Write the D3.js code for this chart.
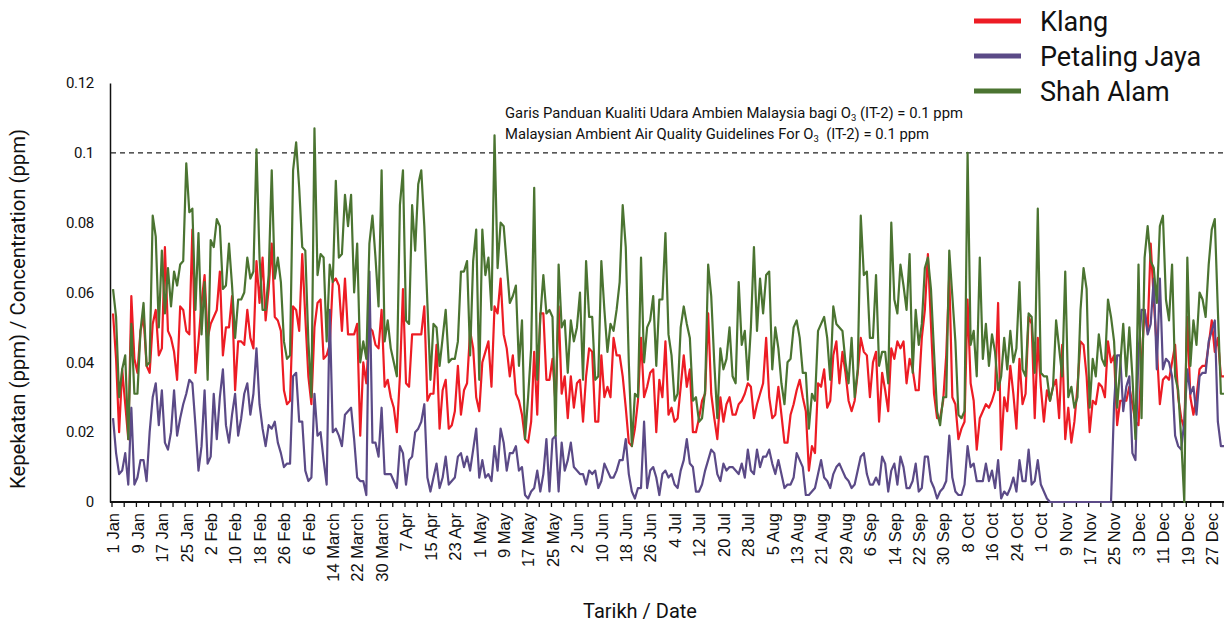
<!DOCTYPE html>
<html>
<head>
<meta charset="utf-8">
<script src="https://cdn.jsdelivr.net/npm/d3@7"></script>
<style>
  body { margin: 0; background: #fff; }
  svg text { fill: #111; }
</style>
</head>
<body>
<div id="chart"></div>
<script>
// daily ozone readings (ppm), 1 Jan - 31 Dec
let tickLabels = ["1 Jan","9 Jan","17 Jan","25 Jan","2 Feb","10 Feb","18 Feb","26 Feb","6 Feb",
    "14 March","22 March","30 March","7 Apr","15 Apr","23 Apr","1 May","9 May","17 May","25 May",
    "2 Jun","10 Jun","18 Jun","26 Jun","4 Jul","12 Jul","20 Jul","28 Jul","5 Aug","13 Aug","21 Aug",
    "29 Aug","6 Sep","14 Sep","22 Sep","30 Sep","8 Oct","16 Oct","24 Oct","1 Oct","9 Nov","17 Nov",
    "25 Nov","3 Dec","11 Dec","19 Dec","27 Dec"];
let yTicks = [0, 0.02, 0.04, 0.06, 0.08, 0.1, 0.12];
let guideline = 0.1;

let klang = [
 0.054,0.041,0.020,0.038,0.028,0.018,0.059,0.041,0.037,0.049,
 0.053,0.039,0.037,0.051,0.055,0.042,0.044,0.073,0.049,0.047,
 0.043,0.035,0.056,0.055,0.049,0.048,0.078,0.037,0.046,0.057,
 0.065,0.047,0.051,0.053,0.055,0.066,0.042,0.050,0.050,0.059,
 0.032,0.046,
 0.046,0.045,0.055,0.047,0.044,0.069,0.057,0.070,0.052,0.061,
 0.074,0.053,0.052,0.049,0.032,0.028,0.029,0.056,0.055,0.049,
 0.071,0.053,0.036,0.028,0.050,0.057,0.058,0.041,0.042,0.045,
 0.063,0.064,0.062,0.049,0.064,0.048,0.048,0.048,0.051,0.019,
 0.040,0.034,0.050,0.049,0.045,0.044,
 0.055,0.033,0.035,0.030,0.027,0.020,0.036,0.061,0.034,0.033,
 0.048,0.048,0.048,0.048,0.056,0.029,0.031,0.031,0.045,0.021,
 0.032,0.035,0.021,0.022,0.026,0.039,0.025,0.032,0.034,0.049,
 0.044,0.030,0.026,0.040,0.043,0.046,0.033,0.056,0.054,0.064,
 0.048,0.044,0.036,0.042,0.031,0.029,0.025,0.018,
 0.017,0.023,0.043,0.025,0.054,0.054,0.035,0.035,0.041,0.028,
 0.056,0.031,0.036,0.024,0.036,0.027,0.034,0.035,0.023,0.036,
 0.044,0.043,0.023,0.023,0.042,0.030,0.033,0.030,0.047,0.042,
 0.042,0.036,0.027,0.017,0.016,0.021,0.029,0.047,0.030,0.033,
 0.037,0.038,0.020,0.035,0.030,0.046,
 0.025,0.027,0.023,0.024,0.033,0.042,0.033,0.038,0.020,0.020,
 0.024,0.029,0.031,0.054,0.031,0.024,0.018,0.030,0.023,0.028,
 0.030,0.025,0.025,0.028,0.029,0.031,0.034,0.033,0.024,0.028,
 0.031,0.034,0.047,0.030,0.024,0.025,0.033,0.025,0.017,0.017,
 0.025,0.028,0.032,0.035,0.030,0.026,
 0.009,0.016,0.014,0.034,0.033,0.038,0.027,0.029,0.042,0.046,
 0.034,0.043,0.037,0.029,0.026,0.029,0.037,0.047,0.043,0.042,
 0.030,0.040,0.043,0.023,0.037,0.032,0.026,0.044,0.041,0.046,
 0.044,0.046,0.034,0.041,0.038,0.032,0.032,0.047,0.055,0.071,
 0.051,0.031,0.024,0.024,0.029,0.042,
 0.065,0.030,0.028,0.018,0.021,0.023,0.058,0.034,0.029,0.015,
 0.024,0.026,0.028,0.027,0.029,0.032,0.057,0.015,0.030,0.026,
 0.039,0.031,0.021,0.041,0.028,0.031,0.053,0.051,0.024,0.047,
 0.033,0.023,0.032,0.029,0.033,0.035,0.024,0.045,0.018,0.027,
 0.017,0.023,0.033,0.046,0.045,
 0.036,0.020,0.029,0.028,0.034,0.033,0.030,0.046,0.040,0.042,
 0.022,0.029,0.029,0.029,0.033,0.028,0.023,0.022,0.040,0.055,
 0.049,0.074,0.058,0.044,0.028,0.035,0.036,0.035,0.040,0.045,
 0.030,0.024,0.021,0.053,0.030,0.025,0.030,0.038,0.039,0.039,
 0.045,0.052,0.043,0.047,0.036,0.036
];

let petalingJaya = [
 0.024,0.014,0.008,0.009,0.014,0.005,0.027,0.005,0.007,0.012,
 0.012,0.006,0.020,0.030,0.034,0.022,0.032,0.017,0.015,0.020,
 0.032,0.019,0.024,0.028,0.031,0.035,0.034,0.022,0.009,0.016,
 0.032,0.011,0.013,0.031,0.018,0.030,0.038,0.022,0.017,0.025,
 0.031,0.019,
 0.024,0.031,0.034,0.025,0.031,0.044,0.028,0.021,0.016,0.022,
 0.021,0.023,0.017,0.014,0.010,0.011,0.011,0.036,0.037,0.023,
 0.023,0.009,0.006,0.007,0.031,0.019,0.020,0.012,0.005,0.055,
 0.020,0.021,0.019,0.016,0.025,0.026,0.027,0.018,0.007,0.006,
 0.006,0.002,0.066,0.017,0.017,0.013,
 0.027,0.008,0.008,0.008,0.006,0.004,0.016,0.014,0.005,0.012,
 0.013,0.020,0.021,0.023,0.028,0.007,0.003,0.007,0.011,0.004,
 0.007,0.013,0.005,0.006,0.007,0.013,0.014,0.010,0.013,0.009,
 0.015,0.021,0.007,0.012,0.007,0.008,0.006,0.016,0.009,0.021,
 0.017,0.009,0.014,0.014,0.016,0.009,0.010,0.002,
 0.001,0.003,0.004,0.009,0.003,0.008,0.018,0.003,0.018,0.019,
 0.003,0.017,0.009,0.012,0.017,0.010,0.009,0.008,0.008,0.005,
 0.009,0.008,0.009,0.004,0.006,0.011,0.009,0.007,0.007,0.009,
 0.012,0.012,0.018,0.008,0.003,0.001,0.004,0.004,0.023,0.004,
 0.009,0.010,0.007,0.002,0.008,0.009,
 0.007,0.008,0.005,0.004,0.009,0.012,0.018,0.011,0.010,0.003,
 0.003,0.005,0.009,0.012,0.015,0.014,0.008,0.006,0.011,0.009,
 0.010,0.010,0.009,0.008,0.011,0.007,0.015,0.009,0.008,0.015,
 0.010,0.013,0.013,0.015,0.011,0.008,0.012,0.008,0.004,0.005,
 0.005,0.007,0.014,0.012,0.010,0.002,
 0.002,0.003,0.004,0.008,0.012,0.007,0.006,0.004,0.008,0.010,
 0.011,0.009,0.007,0.006,0.004,0.005,0.009,0.013,0.014,0.008,
 0.005,0.005,0.007,0.005,0.013,0.011,0.003,0.009,0.011,0.005,
 0.013,0.010,0.004,0.004,0.006,0.011,0.003,0.004,0.013,0.013,
 0.006,0.004,0.001,0.003,0.004,0.006,
 0.019,0.007,0.003,0.002,0.002,0.005,0.016,0.010,0.011,0.006,
 0.006,0.006,0.011,0.006,0.009,0.004,0.012,0.001,0.003,0.002,
 0.004,0.007,0.003,0.012,0.006,0.006,0.015,0.005,0.006,0.012,
 0.005,0.003,0.001,0,0,0,0,0,0,0,
 0,0,0,0,0,
 0,0,0,0,0,0,0,0,0,0.028,
 0.042,0.042,0.026,0.033,0.036,0.014,0.012,0.043,0.055,0.055,
 0.048,0.051,0.064,0.038,0.064,0.038,0.041,0.040,0.036,0.019,
 0.016,0.015,0.023,0.038,0.031,0.033,0.025,0.036,0.037,0.037,
 0.046,0.049,0.052,0.023,0.016,0.016
];

let shahAlam = [
 0.061,0.053,0.030,0.038,0.042,0.018,0.051,0.031,0.031,0.049,
 0.057,0.039,0.040,0.082,0.076,0.050,0.072,0.054,0.067,0.056,
 0.066,0.062,0.068,0.069,0.097,0.083,0.084,0.055,0.077,0.048,
 0.063,0.035,0.075,0.073,0.081,0.079,0.061,0.062,0.074,0.062,
 0.047,0.058,
 0.058,0.060,0.070,0.064,0.066,0.101,0.070,0.055,0.055,0.065,
 0.095,0.064,0.070,0.063,0.046,0.041,0.042,0.095,0.103,0.090,
 0.073,0.072,0.046,0.030,0.107,0.065,0.071,0.070,0.046,0.068,
 0.063,0.092,0.070,0.071,0.088,0.079,0.088,0.060,0.074,0.040,
 0.046,0.041,0.074,0.082,0.070,0.056,
 0.095,0.046,0.052,0.044,0.040,0.036,0.085,0.095,0.052,0.051,
 0.085,0.072,0.091,0.095,0.079,0.057,0.035,0.051,0.050,0.039,
 0.047,0.055,0.040,0.041,0.041,0.046,0.066,0.066,0.069,0.042,
 0.069,0.078,0.035,0.078,0.065,0.070,0.055,0.105,0.067,0.080,
 0.079,0.068,0.057,0.059,0.062,0.039,0.052,0.018,
 0.030,0.044,0.090,0.035,0.053,0.065,0.054,0.055,0.053,0.019,
 0.068,0.050,0.052,0.037,0.052,0.046,0.050,0.060,0.035,0.069,
 0.053,0.053,0.035,0.036,0.069,0.055,0.043,0.051,0.049,0.055,
 0.063,0.085,0.073,0.040,0.016,0.031,0.030,0.070,0.040,0.050,
 0.052,0.059,0.039,0.058,0.058,0.077,
 0.048,0.042,0.029,0.031,0.050,0.056,0.051,0.047,0.029,0.030,
 0.023,0.024,0.032,0.068,0.059,0.040,0.024,0.044,0.038,0.041,
 0.050,0.036,0.034,0.063,0.045,0.049,0.035,0.050,0.073,0.049,
 0.064,0.054,0.065,0.066,0.038,0.050,0.044,0.034,0.028,0.040,
 0.041,0.050,0.052,0.047,0.037,0.037,
 0.021,0.031,0.029,0.049,0.051,0.053,0.047,0.035,0.056,0.051,
 0.050,0.049,0.040,0.034,0.047,0.030,0.038,0.082,0.065,0.066,
 0.047,0.047,0.065,0.039,0.043,0.043,0.034,0.080,0.058,0.054,
 0.068,0.062,0.055,0.071,0.037,0.055,0.045,0.051,0.067,0.070,
 0.061,0.043,0.026,0.022,0.030,0.030,
 0.072,0.059,0.046,0.025,0.024,0.026,0.100,0.045,0.049,0.036,
 0.070,0.041,0.051,0.039,0.048,0.043,0.032,0.036,0.047,0.038,
 0.049,0.040,0.044,0.063,0.038,0.036,0.054,0.053,0.037,0.084,
 0.037,0.036,0.036,0.029,0.033,0.052,0.044,0.036,0.066,0.030,
 0.033,0.027,0.030,0.055,0.067,
 0.061,0.027,0.041,0.036,0.048,0.041,0.039,0.058,0.053,0.046,
 0.027,0.039,0.051,0.036,0.050,0.036,0.018,0.068,0.024,0.070,
 0.079,0.069,0.067,0.057,0.079,0.082,0.058,0.052,0.068,0.036,
 0.032,0.018,0.000,0.070,0.039,0.052,0.045,0.060,0.058,0.053,
 0.068,0.078,0.081,0.055,0.031,0.031
];

let series = [
    {name: "Klang", values: klang, color: "#ed1c24"},
    {name: "Petaling Jaya", values: petalingJaya, color: "#5b4a87"},
    {name: "Shah Alam", values: shahAlam, color: "#4b7431"}
];

let nDays = 365;
let width = 1224, height = 626;
let svg = d3.select("#chart").append("svg")
    .attr("width", width)
    .attr("height", height)
    .style("font-family", "Roboto, 'Open Sans', sans-serif");

// each day is a category slot, ticks sit between slots
let x = d3.scaleLinear()
    .domain([-0.5, nDays - 0.5])
    .range([111.5, 111.5 + nDays * 3.052]);

let y = d3.scaleLinear()
    .domain([0, 0.12])
    .range([502, 83]);

// y axis: line + labels only
let yAxis = d3.axisLeft(y)
    .tickValues(yTicks)
    .tickSize(0)
    .tickPadding(16)
    .tickFormat(function(d){ return d3.format("")(+d.toFixed(2)); });

svg.append("g")
    .attr("class", "y axis")
    .attr("transform", "translate(110,0)")
    .call(yAxis)
    .call(function(g){
        g.select(".domain").attr("stroke", "#111").attr("stroke-width", 1.5);
        g.selectAll("text").style("font-size", "15px").style("font-family", "Roboto, sans-serif")
            .attr("fill", "#111").style("letter-spacing", "-0.3px");
    });

// guideline at 0.1 ppm
svg.append("line")
    .attr("x1", 111)
    .attr("x2", width)
    .attr("y1", y(guideline))
    .attr("y2", y(guideline))
    .attr("stroke", "#222")
    .attr("stroke-width", 1.3)
    .attr("stroke-dasharray", "5,4");

// x axis ticks every 4 days
let xTickAxis = d3.axisBottom(x)
    .tickValues(d3.range(0, 92).map(function(k){ return k * 4 - 0.5; }))
    .tickSize(5)
    .tickSizeOuter(0)
    .tickFormat("");

svg.append("g")
    .attr("class", "x axis")
    .attr("transform", "translate(0,502)")
    .call(xTickAxis)
    .call(function(g){
        g.select(".domain").attr("d", "M110,0H" + width)
            .attr("stroke", "#111").attr("stroke-width", 2);
        g.selectAll(".tick line").attr("stroke", "#111").attr("stroke-width", 1.3);
    });

// x labels every 8 days, rotated
let xLabelAxis = d3.axisBottom(x)
    .tickValues(tickLabels.map(function(d, i){ return i * 8; }))
    .tickSize(0)
    .tickFormat(function(d){ return tickLabels[d / 8]; });

svg.append("g")
    .attr("class", "x labels")
    .attr("transform", "translate(0,502)")
    .call(xLabelAxis)
    .call(function(g){
        g.select(".domain").remove();
        g.selectAll("text")
            .style("font-family", "'Liberation Sans', Arial, sans-serif")
            .style("font-size", "16.5px")
            .attr("fill", "#111")
            .style("text-anchor", "end")
            .attr("transform", "rotate(-90)")
            .attr("x", -11)
            .attr("y", 0)
            .attr("dy", "0.35em");
    });

// series lines
let line = d3.line()
    .x(function(d, i){ return x(i); })
    .y(function(d){ return y(d); });

svg.selectAll(".series")
    .data(series)
    .enter().append("path")
    .attr("class", "series")
    .attr("d", function(d){ return line(d.values); })
    .attr("fill", "none")
    .attr("stroke", function(d){ return d.color; })
    .attr("stroke-width", 2.2)
    .attr("stroke-linejoin", "round");

// legend
let legend = svg.selectAll(".legend")
    .data(series)
    .enter().append("g")
    .attr("class", "legend")
    .attr("transform", function(d, i){ return "translate(974," + (21 + i * 35) + ")"; });

legend.append("line")
    .attr("x1", 0).attr("x2", 47)
    .attr("stroke", function(d){ return d.color; })
    .attr("stroke-width", 5);

legend.append("text")
    .attr("x", 66)
    .attr("dy", "0.36em")
    .style("font-size", "27px")
    .text(function(d){ return d.name; });

// guideline note
let note = svg.append("g").style("font-size", "14px");
let n1 = note.append("text").attr("x", 505).attr("y", 118)
    .attr("textLength", 458).attr("lengthAdjust", "spacingAndGlyphs");
n1.append("tspan").text("Garis Panduan Kualiti Udara Ambien Malaysia bagi O");
n1.append("tspan").text("3").style("font-size", "9px").attr("dy", 3);
n1.append("tspan").text(" (IT-2) = 0.1 ppm").attr("dy", -3);
let n2 = note.append("text").attr("x", 505).attr("y", 139)
    .attr("textLength", 424).attr("lengthAdjust", "spacingAndGlyphs");
n2.append("tspan").text("Malaysian Ambient Air Quality Guidelines For O");
n2.append("tspan").text("3").style("font-size", "9px").attr("dy", 3);
n2.append("tspan").text("\u00a0 (IT-2) = 0.1 ppm").attr("dy", -3);

// axis titles
svg.append("text")
    .attr("x", 640)
    .attr("y", 618)
    .style("text-anchor", "middle")
    .style("font-size", "20px")
    .text("Tarikh / Date");

svg.append("text")
    .attr("transform", "translate(25,309) rotate(-90)")
    .style("text-anchor", "middle")
    .style("font-size", "19.5px")
    .attr("textLength", 360)
    .attr("lengthAdjust", "spacingAndGlyphs")
    .text("Kepekatan (ppm) / Concentration (ppm)");
</script>
</body>
</html>
